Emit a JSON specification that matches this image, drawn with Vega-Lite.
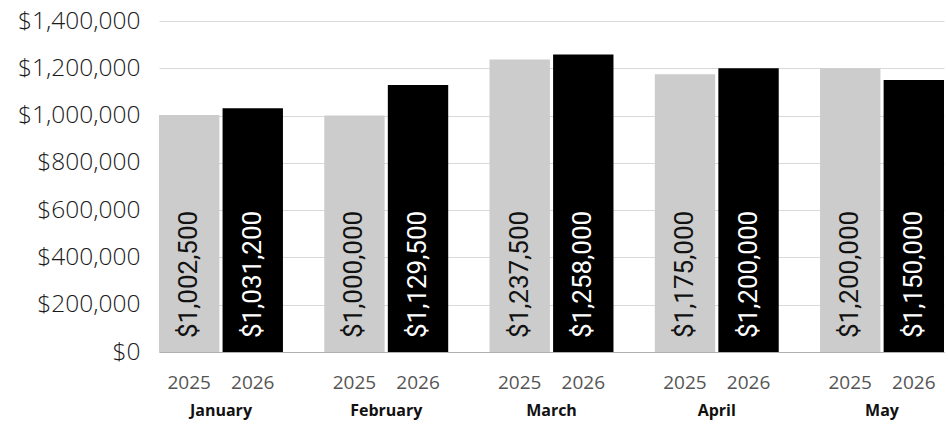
{
  "$schema": "https://vega.github.io/schema/vega-lite/v6.json",
  "autosize": {"type": "none"},
  "padding": {"left": 159, "top": 21, "right": 4, "bottom": 74},
  "width": 785,
  "height": 331,
  "background": "white",
  "data": {
    "values": [
      {"month": "January", "year": "2025", "value": 1002500},
      {"month": "January", "year": "2026", "value": 1031200},
      {"month": "February", "year": "2025", "value": 1000000},
      {"month": "February", "year": "2026", "value": 1129500},
      {"month": "March", "year": "2025", "value": 1237500},
      {"month": "March", "year": "2026", "value": 1258000},
      {"month": "April", "year": "2025", "value": 1175000},
      {"month": "April", "year": "2026", "value": 1200000},
      {"month": "May", "year": "2025", "value": 1200000},
      {"month": "May", "year": "2026", "value": 1150000}
    ]
  },
  "config": {"view": {"stroke": null}},
  "encoding": {
    "x": {
      "field": "month",
      "type": "nominal",
      "sort": ["January", "February", "March", "April", "May"],
      "scale": {"paddingInner": 0.25, "paddingOuter": 0},
      "axis": {
        "title": null,
        "labelAngle": 0,
        "ticks": false,
        "domain": true,
        "domainColor": "#b0b0b0",
        "domainWidth": 1,
        "labelFont": "Open Sans",
        "labelFontWeight": "bold",
        "labelFontSize": 16,
        "labelColor": "#111111",
        "labelPadding": 50
      }
    },
    "xOffset": {
      "field": "year",
      "type": "nominal",
      "scale": {"paddingInner": 0.05, "paddingOuter": 0}
    }
  },
  "layer": [
    {
      "mark": {"type": "bar"},
      "encoding": {
        "y": {
          "field": "value",
          "type": "quantitative",
          "scale": {"domain": [0, 1400000]},
          "axis": {
            "title": null,
            "format": "$,.0f",
            "values": [0, 200000, 400000, 600000, 800000, 1000000, 1200000, 1400000],
            "labelOverlap": false,
            "ticks": false,
            "domain": false,
            "grid": true,
            "gridColor": "#d9d9d9",
            "labelFont": "Open Sans",
            "labelFontWeight": 300,
            "labelFontSize": 24.5,
            "labelColor": "#1a1a1a",
            "labelPadding": 19
          }
        },
        "color": {
          "field": "year",
          "type": "nominal",
          "scale": {"domain": ["2025", "2026"], "range": ["#cccccc", "#000000"]},
          "legend": null
        }
      }
    },
    {
      "mark": {"type": "text", "angle": 270, "align": "left", "baseline": "middle", "dx": 14, "font": "Roboto", "fontSize": 26},
      "encoding": {
        "y": {"datum": 0},
        "text": {"field": "value", "type": "quantitative", "format": "$,.0f"},
        "color": {"condition": {"test": "datum.year == '2026'", "value": "#ffffff"}, "value": "#111111"}
      }
    },
    {
      "mark": {"type": "text", "align": "center", "baseline": "middle", "dy": 31, "font": "Open Sans", "fontSize": 19, "color": "#555555"},
      "encoding": {
        "y": {"datum": 0},
        "text": {"field": "year", "type": "nominal"}
      }
    }
  ]
}
